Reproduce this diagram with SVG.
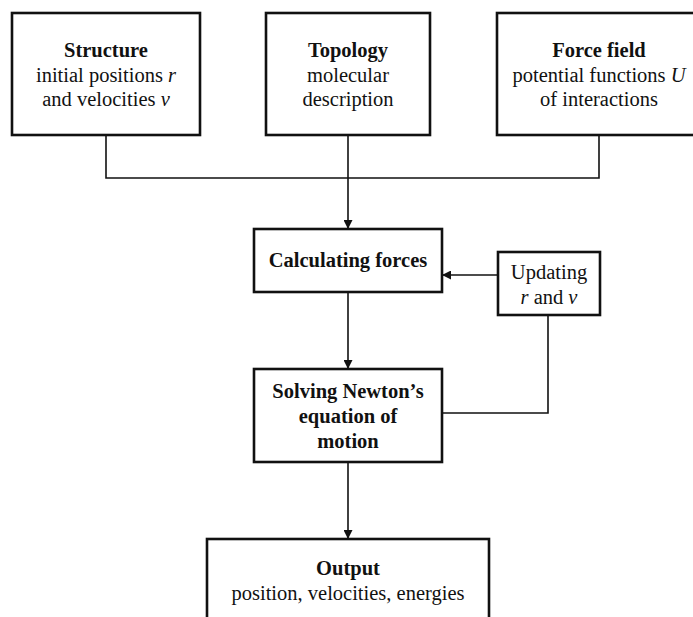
<svg xmlns="http://www.w3.org/2000/svg" width="693" height="617" viewBox="0 0 693 617">
<defs>
<marker id="arr" viewBox="0 0 10 10" refX="10" refY="5" markerWidth="9" markerHeight="9" markerUnits="userSpaceOnUse" orient="auto">
<path d="M0,0 L10,5 L0,10 z" fill="#111"/>
</marker>
</defs>
<style>
.box{fill:#fff;stroke:#111;stroke-width:2.6}
.t{font-family:"Liberation Serif","Times New Roman",serif;font-size:20.5px;fill:#111;text-anchor:middle}
.b{font-weight:bold}
.i{font-style:italic}
.c{fill:none;stroke:#111;stroke-width:1.6}
</style>
<rect width="693" height="617" fill="#fff"/>
<g id="connectors">
<polyline class="c" points="106,135 106,178 599,178 599,135"/>
<line class="c" x1="348" y1="135" x2="348" y2="229" marker-end="url(#arr)"/>
<line class="c" x1="497" y1="275" x2="442" y2="275" marker-end="url(#arr)"/>
<line class="c" x1="348" y1="292" x2="348" y2="369" marker-end="url(#arr)"/>
<polyline class="c" points="548,315 548,413 442,413"/>
<line class="c" x1="348" y1="462" x2="348" y2="539" marker-end="url(#arr)"/>
</g>
<g id="structure">
<rect class="box" x="12" y="13" width="188" height="122"/>
<text class="t b" x="106" y="57">Structure</text>
<text class="t" x="106" y="82">initial positions <tspan class="i">r</tspan></text>
<text class="t" x="106" y="106">and velocities <tspan class="i">v</tspan></text>
</g>
<g id="topology">
<rect class="box" x="266" y="13" width="164" height="122"/>
<text class="t b" x="348" y="57">Topology</text>
<text class="t" x="348" y="82">molecular</text>
<text class="t" x="348" y="106">description</text>
</g>
<g id="forcefield">
<rect class="box" x="497" y="13" width="206" height="122"/>
<text class="t b" x="599" y="57">Force field</text>
<text class="t" x="599" y="82">potential functions <tspan class="i">U</tspan></text>
<text class="t" x="599" y="106">of interactions</text>
</g>
<g id="calculating">
<rect class="box" x="254" y="229" width="188" height="63"/>
<text class="t b" x="348" y="267">Calculating forces</text>
</g>
<g id="updating">
<rect class="box" x="498" y="252" width="102" height="63"/>
<text class="t" x="549" y="279">Updating</text>
<text class="t" x="549" y="304"><tspan class="i">r</tspan> and <tspan class="i">v</tspan></text>
</g>
<g id="solving">
<rect class="box" x="254" y="369" width="188" height="93"/>
<text class="t b" x="348" y="398">Solving Newton’s</text>
<text class="t b" x="348" y="423">equation of</text>
<text class="t b" x="348" y="448">motion</text>
</g>
<g id="output">
<rect class="box" x="207" y="539" width="282" height="100"/>
<text class="t b" x="348" y="575">Output</text>
<text class="t" x="348" y="600">position, velocities, energies</text>
</g>
</svg>
